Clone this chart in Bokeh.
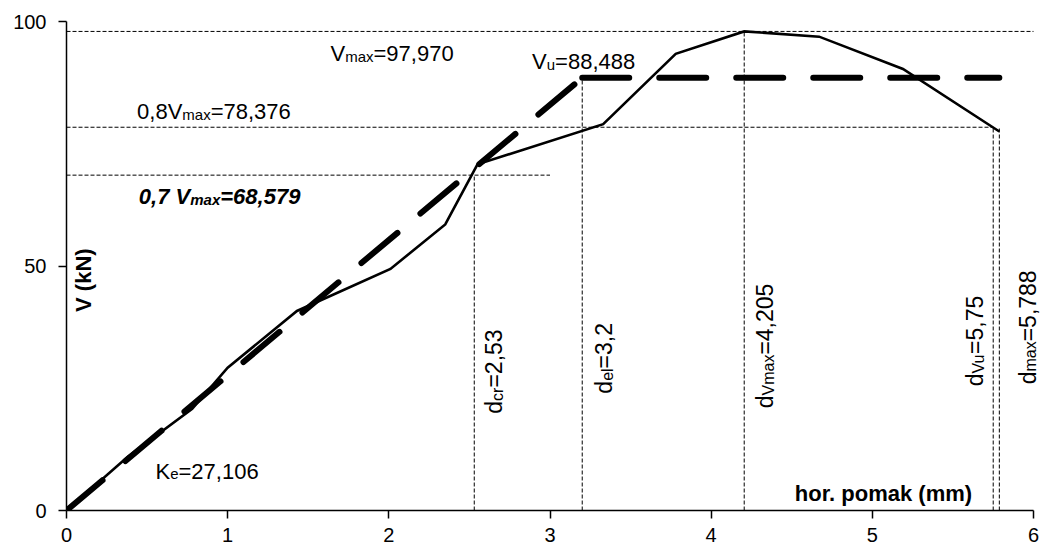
import math
from bokeh.plotting import figure
from bokeh.models import ColumnDataSource, FixedTicker, Range1d
from bokeh.embed import file_html
from bokeh.resources import INLINE
from bokeh.core.properties import value

# ---------------- data ----------------
disp = [0.0, 0.38, 0.78, 1.0, 1.43, 2.01, 2.35, 2.55, 3.33, 3.78, 4.205, 4.67, 5.19, 5.788]
force = [0.0, 11.0, 20.8, 29.2, 40.8, 49.4, 58.5, 70.8, 79.0, 93.4, 97.97, 96.9, 90.3, 77.5]

bil_x = [0.0, 3.2, 5.788]
bil_y = [0.0, 88.488, 88.488]

V_max = 97.970
V_u = 88.488
V_08 = 78.376
V_07 = 68.579
K_e = 27.106
d_cr = 2.53
d_el = 3.2
d_vmax = 4.205
d_vu = 5.75
d_max = 5.788

x_ticks = [0, 1, 2, 3, 4, 5, 6]
y_ticks = [0, 50, 100]

# reference (dotted) lines
h_y = [V_max, V_08, V_07]
h_x1 = [6.0, d_vu, 3.0]
v_x = [d_cr, d_el, d_vmax, d_vu, d_max]
v_y1 = [V_07, V_u, V_max, V_08, V_08]

FONT = "Liberation Sans"

# frame is widened slightly past x=6 so the rightmost rotated label is not clipped;
# the axis itself is bounded to 0..6
X_AXIS_END = 6
X_RANGE_END = X_AXIS_END * (1045 - 66 - 2) / 967.0

p = figure(width=1045, height=551, output_backend="svg", toolbar_location=None,
           x_range=Range1d(0, X_RANGE_END), y_range=Range1d(0, 100),
           min_border_left=66, min_border_right=2, min_border_top=21, min_border_bottom=41)
p.outline_line_color = None
p.xgrid.visible = False
p.ygrid.visible = False
p.background_fill_color = "white"
p.border_fill_color = "white"

for ax in (p.xaxis[0], p.yaxis[0]):
    ax.axis_line_color = "black"
    ax.axis_line_width = 1.5
    ax.major_tick_line_color = "black"
    ax.major_tick_line_width = 1.5
    ax.major_tick_out = 8
    ax.major_tick_in = 0
    ax.minor_tick_line_color = None
    ax.major_label_text_font = FONT
    ax.major_label_text_font_size = "20px"
    ax.major_label_text_color = "black"
p.xaxis.ticker = FixedTicker(ticks=x_ticks)
p.yaxis.ticker = FixedTicker(ticks=y_ticks)
p.xaxis.bounds = (0, X_AXIS_END)
p.xaxis.major_label_standoff = 9
p.yaxis.major_label_standoff = 12

# dotted reference lines
p.segment(x0=[0] * len(h_y), y0=h_y, x1=h_x1, y1=h_y, line_color="black",
          line_width=1, line_dash="4 2")
p.segment(x0=v_x, y0=[0] * len(v_x), x1=v_x, y1=v_y1, line_color="black",
          line_width=1, line_dash="4 2")

# bilinear idealisation (dash pattern restarts at each vertex, as in the original)
bil_xs = [bil_x[i:i + 2] for i in range(len(bil_x) - 1)]
bil_ys = [bil_y[i:i + 2] for i in range(len(bil_y) - 1)]
p.multi_line(bil_xs, bil_ys, line_color="black", line_width=6, line_dash="47 30",
             line_cap="round")
# measured curve
p.line(disp, force, line_color="black", line_width=2.6, line_join="miter")

# ---------------- text with subscripts ----------------
W_REG = {**{str(i): 556 for i in range(10)}, ',': 278, '.': 278, ' ': 278, '=': 584,
         'V': 667, 'K': 667, 'm': 833, 'a': 556, 'x': 500, 'u': 556, 'e': 556,
         'd': 556, 'c': 500, 'r': 333, 'l': 222}
W_BI = {**{str(i): 556 for i in range(10)}, ',': 278, ' ': 278, '=': 584,
        'V': 667, 'm': 889, 'a': 556, 'x': 556}

BASE_FIX = 0.34  # renderer places the glyph band lower than the alphabetic anchor


def tw(s, table, size):
    return sum(table[c] for c in s) * size / 1000.0


groups = {}


def add_label(x, y, parts, size, sub_size, style="normal", vertical=False,
              table=W_REG, drop=3, x_px=0, y_px=0):
    pos = 0.0
    fix = -BASE_FIX * size
    for s, sub in parts:
        sz = sub_size if sub else size
        d = drop if sub else 0
        if vertical:
            xo, yo = x_px + d + fix, y_px - pos
        else:
            xo, yo = x_px + pos, y_px + d + fix
        g = groups.setdefault((style, vertical, sz), dict(x=[], y=[], text=[], xo=[], yo=[]))
        g["x"].append(x)
        g["y"].append(y)
        g["text"].append(s)
        g["xo"].append(xo)
        g["yo"].append(yo)
        pos += tw(s, table, sz)


def fmt(v, nd=None):
    s = f"{v:.{nd}f}" if nd is not None else f"{v:g}"
    return s.replace(".", ",")


# horizontal annotations
add_label(1.638, 92.0, [("V", 0), ("max", 1), ("=" + fmt(V_max, 3), 0)], 22, 15)
add_label(2.889, 90.3, [("V", 0), ("u", 1), ("=" + fmt(V_u, 3), 0)], 22, 15)
add_label(0.438, 80.1, [("0,8V", 0), ("max", 1), ("=" + fmt(V_08, 3), 0)], 22, 15)
add_label(0.449, 62.6, [("0,7 V", 0), ("max", 1), ("=" + fmt(V_07, 3), 0)], 22, 15,
          style="bold italic", table=W_BI)
add_label(0.552, 6.5, [("K", 0), ("e", 1), ("=" + fmt(K_e, 3), 0)], 22, 15)

# vertical annotations (x = line position, offset in px to the baseline)
add_label(d_cr, 19.8, [("d", 0), ("cr", 1), ("=" + fmt(d_cr), 0)], 23, 16, vertical=True, x_px=28)
add_label(d_el, 23.9, [("d", 0), ("el", 1), ("=" + fmt(d_el), 0)], 23, 16, vertical=True, x_px=30)
add_label(d_vmax, 20.9, [("d", 0), ("Vmax", 1), ("=" + fmt(d_vmax), 0)], 23, 16, vertical=True, x_px=29)
add_label(d_vu, 25.4, [("d", 0), ("Vu", 1), ("=" + fmt(d_vu), 0)], 23, 16, vertical=True, x_px=-10)
add_label(d_max, 25.8, [("d", 0), ("max", 1), ("=" + fmt(d_max), 0)], 23, 16, vertical=True, x_px=36)

for (style, vertical, sz), g in groups.items():
    p.text(x="x", y="y", text="text", x_offset="xo", y_offset="yo",
           source=ColumnDataSource(g), text_font=value(FONT),
           text_font_size=value(f"{sz}px"), text_font_style=style,
           angle=math.pi / 2 if vertical else 0.0, text_align="left",
           text_baseline="alphabetic", text_color="black")

# axis titles (placed inside the plot area as in the original)
p.text(x=[0.149], y=[40.6], text=["V (kN)"], angle=math.pi / 2, x_offset=-BASE_FIX * 22,
       text_font=value(FONT), text_font_size=value("22px"), text_font_style="bold",
       text_align="left", text_baseline="alphabetic", text_color="black")
p.text(x=[5.619], y=[2.0], text=["hor. pomak (mm)"], y_offset=-BASE_FIX * 22,
       text_font=value(FONT), text_font_size=value("22px"), text_font_style="bold",
       text_align="right", text_baseline="alphabetic", text_color="black")

open("out.html", "w").write(file_html(p, INLINE))
